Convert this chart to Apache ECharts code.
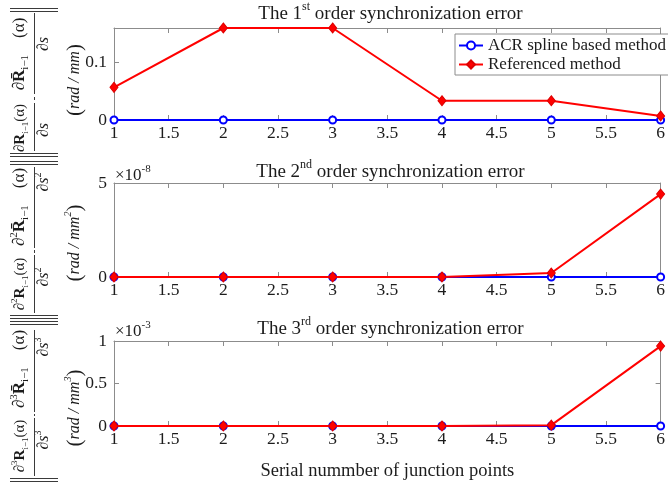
<!DOCTYPE html>
<html>
<head>
<meta charset="utf-8">
<script src="https://cdn.jsdelivr.net/npm/echarts@6/dist/echarts.min.js"></script>
<style>
  html, body { margin: 0; padding: 0; background: #ffffff; }
  #chart { width: 668px; height: 482px; }
</style>
</head>
<body>
<div id="chart"></div>
<script>
// Junction points along the spline and the synchronization error at each one
const junctionPoints = [1, 2, 3, 4, 5, 6];

const acrFirst  = [0, 0, 0, 0, 0, 0];
const refFirst  = [0.0564, 0.159, 0.159, 0.0333, 0.0333, 0.0069];

const acrSecond = [0, 0, 0, 0, 0, 0];
const refSecond = [0, 0, 0, 0, 0.21e-8, 4.41e-8];

const acrThird  = [0, 0, 0, 0, 0, 0];
const refThird  = [0, 0, 0, 0, 0.01e-3, 0.94e-3];

// Tick values of each error axis
const yTicksFirst  = [0, 0.1];
const yTicksSecond = [0, 5e-8];
const yTicksThird  = [0, 0.5e-3, 1e-3];

const seriesNames = ['ACR spline based method', 'Referenced method'];
const orderSuffix = ['st', 'nd', 'rd'];

const FONT = "'Liberation Serif', 'Times New Roman', 'DejaVu Serif', serif";
const INK = '#1c1c1c';
const AXIS_GRAY = '#8c8c8c';
const BLUE = '#0000ff';
const RED = '#ff0000';

const panels = [
  { top: 28,  height: 92, max: 0.159, ticks: yTicksFirst,  scale: 1,    acr: acrFirst,  ref: refFirst },
  { top: 183, height: 94, max: 5e-8,  ticks: yTicksSecond, scale: 1e-8, acr: acrSecond, ref: refSecond },
  { top: 341, height: 92, max: 1e-3,  ticks: yTicksThird,  scale: 1e-3, acr: acrThird,  ref: refThird }
];

const GRID_LEFT = 114;
const GRID_WIDTH = 553;

function fmtNum(v) {
  return String(parseFloat(v.toFixed(6)));
}

const grid = [];
const xAxis = [];
const yAxis = [];
const series = [];

panels.forEach(function (p, i) {
  grid.push({ left: GRID_LEFT, top: p.top, width: GRID_WIDTH, height: p.height, containLabel: false });

  const lineStyle = { color: AXIS_GRAY, width: 1 };
  const tickStyle = { inside: true, length: 5, lineStyle: { color: AXIS_GRAY } };

  // bottom x axis with labels
  xAxis.push({
    type: 'value', gridIndex: i, min: 1, max: 6, interval: 0.5,
    axisLine: { show: true, onZero: false, lineStyle: lineStyle },
    axisTick: tickStyle,
    splitLine: { show: false },
    axisLabel: { color: INK, fontFamily: FONT, fontSize: 17.5, margin: 4, formatter: fmtNum },
    name: i === 2 ? 'Serial nummber of junction points' : '',
    nameLocation: 'middle', nameGap: 36,
    nameTextStyle: { color: INK, fontFamily: FONT, fontSize: 18.5 }
  });
  // top x axis closing the box
  xAxis.push({
    type: 'value', gridIndex: i, min: 1, max: 6, interval: 0.5, position: 'top',
    axisLine: { show: true, onZero: false, lineStyle: lineStyle },
    axisTick: tickStyle, splitLine: { show: false }, axisLabel: { show: false }
  });

  const yLabelFmt = function (v) { return fmtNum(v / p.scale); };
  yAxis.push({
    type: 'value', gridIndex: i, min: 0, max: p.max,
    axisLine: { show: true, onZero: false, lineStyle: lineStyle },
    axisTick: Object.assign({ customValues: p.ticks }, tickStyle),
    splitLine: { show: false },
    axisLabel: { color: INK, fontFamily: FONT, fontSize: 17.5, margin: 7, customValues: p.ticks, formatter: yLabelFmt }
  });
  yAxis.push({
    type: 'value', gridIndex: i, min: 0, max: p.max, position: 'right',
    axisLine: { show: true, onZero: false, lineStyle: lineStyle },
    axisTick: Object.assign({ customValues: p.ticks }, tickStyle),
    splitLine: { show: false }, axisLabel: { show: false }
  });

  const toPairs = function (arr) { return junctionPoints.map(function (x, k) { return [x, arr[k]]; }); };

  series.push({
    name: seriesNames[0], type: 'line', xAxisIndex: i * 2, yAxisIndex: i * 2,
    data: toPairs(p.acr), color: BLUE,
    lineStyle: { color: BLUE, width: 2 },
    symbol: 'emptyCircle', symbolSize: 7,
    itemStyle: { color: BLUE, borderColor: BLUE, borderWidth: 1.5 },
    emphasis: { disabled: true }, animation: false, z: 3
  });
  series.push({
    name: seriesNames[1], type: 'line', xAxisIndex: i * 2, yAxisIndex: i * 2,
    data: toPairs(p.ref), color: RED,
    lineStyle: { color: RED, width: 2 },
    symbol: 'diamond', symbolSize: [8, 10],
    itemStyle: { color: RED, borderColor: '#dd0000', borderWidth: 1 },
    emphasis: { disabled: true }, animation: false, z: 4
  });
});

// ---- text helpers for the graphic layer ----
function rs(size, extra) {
  return Object.assign({ fontFamily: FONT, fontSize: size, fill: INK }, extra || {});
}

function mathRich(size) {
  const small = Math.round(size * 0.62);
  return {
    sup: rs(small, { verticalAlign: 'top', lineHeight: small }),
    sub: rs(small, { verticalAlign: 'bottom', lineHeight: small }),
    b: rs(size, { fontWeight: 'bold' }),
    it: rs(size, { fontStyle: 'italic' }),
    p: rs(Math.round(size * 1.3), { fontStyle: 'normal' }),
    su: rs(small, { fontStyle: 'italic', verticalAlign: 'top', lineHeight: small })
  };
}

function textEl(x, y, text, size, opts) {
  opts = opts || {};
  return {
    type: 'text', x: x, y: y,
    rotation: opts.rotate ? Math.PI / 2 : 0,
    silent: true, z: 10,
    style: {
      text: text, fontFamily: FONT, fontSize: size, fill: INK,
      fontStyle: opts.italic ? 'italic' : 'normal',
      align: opts.align || 'center', verticalAlign: 'middle',
      lineHeight: opts.lineHeight || Math.round(size * 1.35),
      rich: mathRich(size)
    }
  };
}

function lineEl(x1, y1, x2, y2) {
  return {
    type: 'line', silent: true, z: 10,
    shape: { x1: x1, y1: y1, x2: x2, y2: y2 },
    style: { stroke: '#3a3a3a', lineWidth: 1 }
  };
}

const graphic = [];

// panel titles
const titleY = [14, 172, 329];
titleY.forEach(function (y, i) {
  graphic.push(textEl(GRID_LEFT + GRID_WIDTH / 2, y,
    'The ' + (i + 1) + '{sup|' + orderSuffix[i] + '} order synchronization error', 19, { lineHeight: 27 }));
});

// exponent markers above the scaled axes
graphic.push(textEl(115, 176, '×10{sup|-8}', 17, { align: 'left', lineHeight: 24 }));
graphic.push(textEl(115, 332, '×10{sup|-3}', 17, { align: 'left', lineHeight: 24 }));

// unit labels
const unitY = [80, 243, 408];
unitY.forEach(function (y, i) {
  const pow = i === 0 ? '' : '{su|' + (i + 1) + '}';
  graphic.push(textEl(75, y, '{p|(}rad / mm' + pow + '{p|)}', 16, { rotate: true, italic: true, lineHeight: 24 }));
});

// norm of the difference of the two derivative fractions
const fraction = [
  { numLo: 128, numHi: 54,  denLo: 130, denHi: 44,  bars: [[13, 94], [97, 100], [103, 151]], top: [8.5, 11.5], bottom: [153.5, 156.5] },
  { numLo: 284, numHi: 207, denLo: 277, denHi: 182, bars: [[167, 248], [250, 253], [255, 313]], top: [161.5, 164.5], bottom: [315.5, 318.5] },
  { numLo: 446, numHi: 369, denLo: 440, denHi: 347, bars: [[330, 412], [414, 416], [418, 476]], top: [321.5, 324.5], bottom: [478.5, 481.5] }
];

fraction.forEach(function (f, i) {
  const n = i + 1;
  const pw = n > 1 ? '{sup|' + n + '}' : '';
  graphic.push(textEl(20, f.numLo, '∂' + pw + '{b|R}{sub|i−1}(α)', 15, { rotate: true, lineHeight: 20 }));
  graphic.push(textEl(20, f.numHi, '∂' + pw + '{b|R\u0304}{sub|i−1}    (α)', 17, { rotate: true, lineHeight: 22 }));
  graphic.push(textEl(44, f.denLo, '∂{it|s}' + pw, 16, { rotate: true, lineHeight: 22 }));
  graphic.push(textEl(44, f.denHi, '∂{it|s}' + pw, 16, { rotate: true, lineHeight: 22 }));
  f.bars.forEach(function (b) { graphic.push(lineEl(34.5, b[0], 34.5, b[1])); });
  f.top.concat(f.bottom).forEach(function (y) { graphic.push(lineEl(10, y, 58, y)); });
});

const chart = echarts.init(document.getElementById('chart'), null, { renderer: 'canvas' });
chart.setOption({
  backgroundColor: '#ffffff',
  animation: false,
  grid: grid,
  xAxis: xAxis,
  yAxis: yAxis,
  series: series,
  legend: {
    data: seriesNames,
    orient: 'vertical',
    left: 455, top: 34,
    backgroundColor: '#ffffff',
    borderColor: AXIS_GRAY, borderWidth: 1, borderRadius: 0,
    padding: [3, 4, 2, 3],
    itemGap: 2, itemWidth: 24, itemHeight: 10,
    textStyle: { color: INK, fontFamily: FONT, fontSize: 17 },
    selectedMode: false, z: 20
  },
  graphic: graphic
});
</script>
</body>
</html>
